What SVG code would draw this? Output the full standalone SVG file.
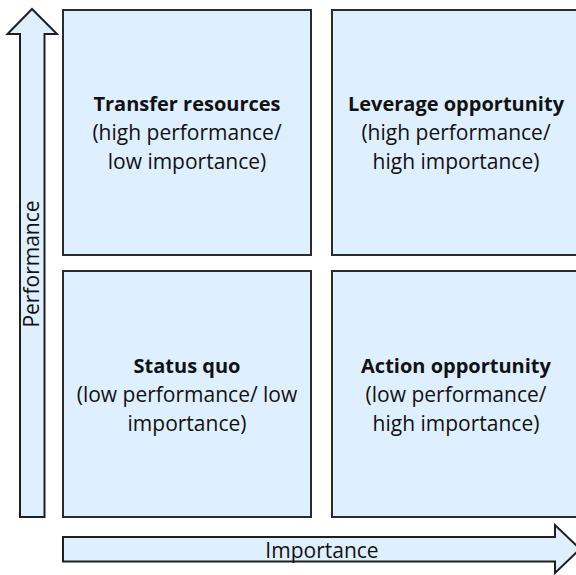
<svg xmlns="http://www.w3.org/2000/svg" width="576" height="575" viewBox="0 0 576 575">
<style>
.box{fill:#DEEFFF;stroke:#2b2b2b;stroke-width:2}
.arr{fill:#DEEFFF;stroke:#1f1f1f;stroke-width:2;stroke-linejoin:miter}
text{font-family:"Open Sans","Noto Sans","Liberation Sans",sans-serif;font-size:21px;fill:#111;text-anchor:middle}
.b{font-weight:bold;font-size:20px}
</style>
<rect width="576" height="575" fill="#fff"/>
<g id="connectors">
<path id="perf-arrow" class="arr" d="M20,517 L20,34 L7.5,34 L32,9 L57,34 L44.5,34 L44.5,517 Z"/>
<path id="imp-arrow" class="arr" d="M63,537 L555,537 L555,525 L580,549 L555,573 L555,561.5 L63,561.5 Z"/>
<text x="32" y="264" transform="rotate(-90 32 264)" dy="7">Performance</text>
<text x="322" y="558">Importance</text>
</g>
<g id="transfer">
<rect class="box" x="63" y="10" width="248" height="245"/>
<text x="187" y="111" class="b">Transfer resources</text>
<text x="187" y="140">(high performance/</text>
<text x="187" y="169">low importance)</text>
</g>
<g id="leverage">
<rect class="box" x="332" y="10" width="250" height="245"/>
<text x="456" y="111" class="b">Leverage opportunity</text>
<text x="456" y="140">(high performance/</text>
<text x="456" y="169">high importance)</text>
</g>
<g id="status">
<rect class="box" x="63" y="271" width="248" height="246"/>
<text x="187" y="373" class="b">Status quo</text>
<text x="187" y="402">(low performance/ low</text>
<text x="187" y="431">importance)</text>
</g>
<g id="action">
<rect class="box" x="332" y="271" width="250" height="246"/>
<text x="456" y="373" class="b">Action opportunity</text>
<text x="456" y="402">(low performance/</text>
<text x="456" y="431">high importance)</text>
</g>
</svg>
